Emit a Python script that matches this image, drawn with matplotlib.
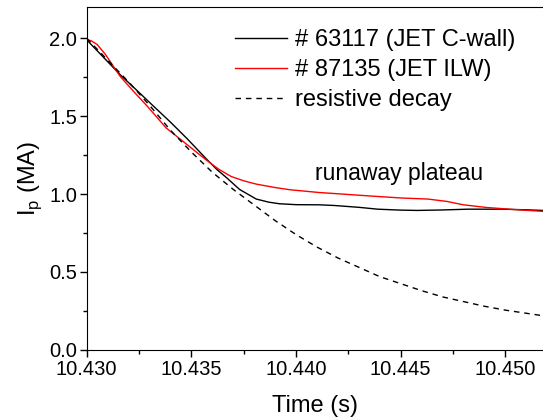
import matplotlib
matplotlib.use('Agg')
import matplotlib.pyplot as plt
from matplotlib.ticker import MultipleLocator, FormatStrFormatter

plt.rcParams['font.family'] = ['Liberation Sans', 'DejaVu Sans']

# shot 63117 (C-wall)
t_cwall = [10.4300, 10.4305, 10.4310, 10.4316, 10.4324, 10.4332, 10.4340, 10.4348,
           10.4357, 10.4362, 10.4367, 10.4373, 10.4381, 10.4387, 10.4392, 10.4400,
           10.4411, 10.4418, 10.4430, 10.4439, 10.4450, 10.4458, 10.4470, 10.4482,
           10.4498, 10.4510, 10.4518]
ip_cwall = [1.99, 1.92, 1.85, 1.766, 1.665, 1.563, 1.462, 1.355,
            1.228, 1.16, 1.103, 1.03, 0.968, 0.948, 0.938, 0.932,
            0.931, 0.927, 0.915, 0.903, 0.897, 0.895, 0.898, 0.903,
            0.903, 0.899, 0.895]

# shot 87135 (ILW)
t_ilw = [10.4300, 10.4302, 10.4305, 10.4309, 10.4316, 10.4323, 10.4329, 10.4338,
         10.4348, 10.4357, 10.4363, 10.4369, 10.4375, 10.4381, 10.4390, 10.4397,
         10.4411, 10.4420, 10.4434, 10.4450, 10.4463, 10.4472, 10.4480, 10.4491,
         10.4505, 10.4518]
ip_ilw = [1.99, 1.985, 1.96, 1.895, 1.755, 1.65, 1.563, 1.424,
          1.317, 1.220, 1.16, 1.113, 1.085, 1.064, 1.042, 1.028,
          1.010, 1.002, 0.989, 0.975, 0.968, 0.953, 0.931, 0.914,
          0.900, 0.889]

# resistive decay
t_res = [10.430, 10.431, 10.432, 10.433, 10.434, 10.435, 10.436, 10.437, 10.438,
         10.439, 10.440, 10.441, 10.442, 10.443, 10.444, 10.445, 10.446, 10.447,
         10.448, 10.449, 10.450, 10.451, 10.452]
ip_res = [2.00, 1.86, 1.72, 1.57, 1.41, 1.27, 1.14, 1.03, 0.93,
          0.83, 0.74, 0.66, 0.59, 0.53, 0.47, 0.425, 0.38, 0.34,
          0.31, 0.28, 0.255, 0.235, 0.215]

fig = plt.figure(figsize=(5.43, 4.19), dpi=100)
ax = fig.add_axes([0.1597, 0.165, 0.8403, 0.818])

ax.plot(t_cwall, ip_cwall, color='black', lw=1.0, label='# 63117 (JET C-wall)')
ax.plot(t_ilw, ip_ilw, color='red', lw=1.0, label='# 87135 (JET ILW)')
ax.plot(t_res, ip_res, color='black', lw=1.0, ls=(0, (4, 3.5)), label='resistive decay')

ax.set_xlim(10.430, 10.4518)
ax.set_ylim(0, 2.2)
ax.xaxis.set_major_locator(MultipleLocator(0.005))
ax.xaxis.set_minor_locator(MultipleLocator(0.0025))
ax.yaxis.set_major_locator(MultipleLocator(0.5))
ax.yaxis.set_minor_locator(MultipleLocator(0.25))
ax.xaxis.set_major_formatter(FormatStrFormatter('%.3f'))
ax.yaxis.set_major_formatter(FormatStrFormatter('%.1f'))
ax.tick_params(which='both', direction='out', top=False, right=False, labelsize=14.5)
ax.tick_params(which='major', length=5, width=1, pad=2)
ax.tick_params(which='minor', length=3, width=1)
ax.spines['right'].set_visible(False)

ax.set_xlabel('Time (s)', fontsize=17, labelpad=12)
ax.set_ylabel(r'I$_\mathregular{p}$ (MA)', fontsize=17, labelpad=4)

ax.text(10.4449, 1.13, 'runaway plateau', fontsize=16.5, ha='center', va='center')

ax.legend(loc='upper left', bbox_to_anchor=(0.325, 0.935), frameon=False, fontsize=17,
          handlelength=2.2, handletextpad=0.34, labelspacing=0.33,
          borderaxespad=0, borderpad=0)

fig.savefig('out.png', dpi=100)
